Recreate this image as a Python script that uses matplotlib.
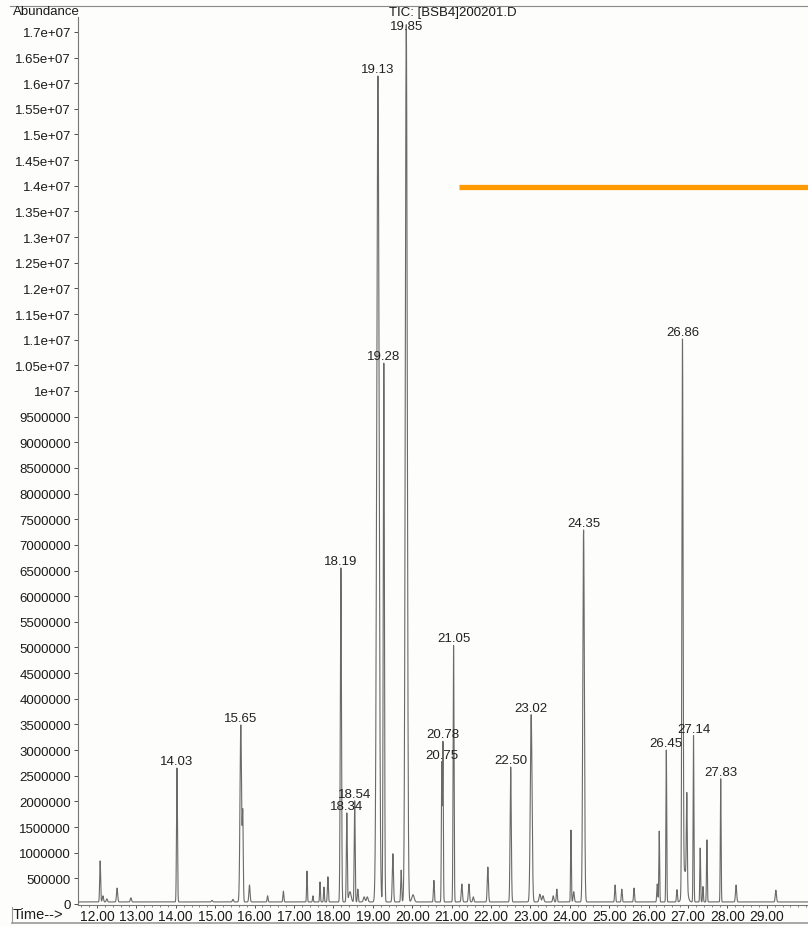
import numpy as np
import matplotlib
matplotlib.use("Agg")
import matplotlib.pyplot as plt
from matplotlib.lines import Line2D
from matplotlib.ticker import FixedLocator, MultipleLocator, FuncFormatter

plt.rcParams["font.family"] = ["Liberation Sans", "DejaVu Sans"]

# peak table: retention time (min), apex abundance, peak sigma (min)
PEAK_RT = [12.08, 12.15, 12.25, 12.51, 12.86, 14.03, 14.92, 15.45, 15.65, 15.70,
           15.87, 16.33, 16.73, 17.33, 17.48, 17.66, 17.76, 17.86, 18.19, 18.34,
           18.42, 18.54, 18.62, 18.78, 18.86, 19.13, 19.28, 19.51, 19.72, 19.85,
           20.02, 20.55, 20.75, 20.78, 21.05, 21.26, 21.44, 21.55, 21.92, 22.50,
           23.02, 23.24, 23.32, 23.58, 23.67, 24.03, 24.10, 24.35, 25.15, 25.32,
           25.63, 26.22, 26.27, 26.45, 26.72, 26.86, 26.92, 26.97, 27.14, 27.31,
           27.38, 27.48, 27.83, 28.22, 29.23]
PEAK_HEIGHT = [0.80e6, 0.12e6, 0.06e6, 0.27e6, 0.08e6, 2.61e6, 0.03e6, 0.05e6, 3.45e6, 1.65e6,
               0.33e6, 0.12e6, 0.21e6, 0.60e6, 0.12e6, 0.39e6, 0.29e6, 0.49e6, 6.51e6, 1.73e6,
               0.20e6, 1.97e6, 0.25e6, 0.10e6, 0.10e6, 16.1e6, 10.5e6, 0.94e6, 0.62e6, 17.1e6,
               0.14e6, 0.42e6, 2.70e6, 3.10e6, 5.00e6, 0.35e6, 0.35e6, 0.10e6, 0.68e6, 2.63e6,
               3.65e6, 0.15e6, 0.12e6, 0.12e6, 0.25e6, 1.40e6, 0.20e6, 7.25e6, 0.33e6, 0.25e6,
               0.27e6, 0.35e6, 1.38e6, 2.96e6, 0.24e6, 10.68e6, 0.60e6, 1.77e6, 3.24e6, 1.05e6,
               0.30e6, 1.21e6, 2.40e6, 0.33e6, 0.23e6]
PEAK_SIGMA = [0.012, 0.015, 0.015, 0.015, 0.015, 0.012, 0.015, 0.015, 0.020, 0.012,
              0.015, 0.012, 0.012, 0.010, 0.010, 0.010, 0.010, 0.012, 0.015, 0.012,
              0.030, 0.012, 0.012, 0.020, 0.020, 0.030, 0.015, 0.015, 0.012, 0.025,
              0.030, 0.012, 0.010, 0.010, 0.012, 0.015, 0.015, 0.015, 0.015, 0.015,
              0.022, 0.020, 0.020, 0.015, 0.012, 0.010, 0.015, 0.020, 0.012, 0.012,
              0.012, 0.012, 0.010, 0.010, 0.012, 0.015, 0.050, 0.012, 0.010, 0.010,
              0.010, 0.010, 0.010, 0.015, 0.015]
BASELINE = 40000

# integrated peaks that carry a retention-time label
LABELED_RT = [14.03, 15.65, 18.19, 18.34, 18.54, 19.13, 19.28, 19.85, 20.75, 20.78,
              21.05, 22.50, 23.02, 24.35, 26.45, 26.86, 27.14, 27.83]

Y_TICKS = np.arange(0, 1.7e7 + 1, 5e5)
X_TICKS = np.arange(12, 30)
MARKER_LEVEL = 1.398e7
MARKER_START = 21.2

t = np.arange(11.5, 30.1, 0.002)
signal = np.full_like(t, BASELINE, dtype=float)
for rt, h, s in zip(PEAK_RT, PEAK_HEIGHT, PEAK_SIGMA):
    signal += h * np.exp(-0.5 * ((t - rt) / s) ** 2)

W, H = 808, 928
fig = plt.figure(figsize=(W / 100, H / 100), dpi=100)
fig.patch.set_facecolor("#fdfdfc")
ax = fig.add_axes([78 / W, 1 - 906 / H, (W - 78) / W, (906 - 18) / H])
ax.set_facecolor("none")

ax.plot(t, signal, color="#6a6a6a", linewidth=0.8)

for rt in LABELED_RT:
    apex = BASELINE + sum(h * np.exp(-0.5 * ((rt - p) / s) ** 2)
                          for p, h, s in zip(PEAK_RT, PEAK_HEIGHT, PEAK_SIGMA))
    dy = -3 if apex > 1.69e7 else 3
    ax.annotate(f"{rt:.2f}", xy=(rt, apex), xytext=(0, dy), textcoords="offset points",
                ha="center", va="baseline", fontsize=9.5, color="#222222")

x_right = 11.518 + (W - 78) / 39.4
ax.hlines(MARKER_LEVEL, MARKER_START, x_right, color="#ff9a00", linewidth=3.8)

ax.set_xlim(11.518, x_right)
ax.set_ylim(-19500, 1.729e7)

ax.yaxis.set_major_locator(FixedLocator(Y_TICKS))
ax.yaxis.set_major_formatter(FuncFormatter(
    lambda v, pos: f"{v:g}" if v >= 1e7 else f"{int(round(v))}"))
ax.xaxis.set_major_locator(FixedLocator(X_TICKS))
ax.xaxis.set_minor_locator(MultipleLocator(0.2))
ax.xaxis.set_major_formatter(FuncFormatter(lambda v, pos: f"{v:.2f}"))

ax.tick_params(axis="y", direction="out", length=3, width=0.6, pad=2,
               labelsize=9.5, colors="#333333", labelcolor="#1a1a1a")
ax.tick_params(axis="x", which="major", direction="out", length=2.5, width=0.6, pad=0.5,
               labelsize=10, colors="#333333", labelcolor="#1a1a1a")
ax.tick_params(axis="x", which="minor", direction="out", length=1.5, width=0.5,
               colors="#555555")

for side in ("top", "right"):
    ax.spines[side].set_visible(False)
for side in ("left", "bottom"):
    ax.spines[side].set_color("#777777")
    ax.spines[side].set_linewidth(0.8)

fig.text(13 / W, 1 - 12 / H, "Abundance", ha="left", va="center", fontsize=9.5,
         color="#1a1a1a")
fig.text(453 / W, 1 - 13 / H, "TIC: [BSB4]200201.D", ha="center", va="center",
         fontsize=9.5, color="#1a1a1a")
fig.text(13 / W, 1 - 915 / H, "Time-->", ha="left", va="center", fontsize=10.5,
         color="#1a1a1a")

# page frame lines around the trace
fig.add_artist(Line2D([10 / W, 1], [1 - 7 / H] * 2, color="#8a8a8a", linewidth=0.8))
fig.add_artist(Line2D([12 / W, 1], [1 - 924 / H] * 2, color="#9a9a9a", linewidth=1.2))
fig.add_artist(Line2D([12 / W] * 2, [1 - 908 / H, 1 - 924 / H], color="#9a9a9a",
                      linewidth=0.8))

fig.savefig("out.png", dpi=100, facecolor=fig.get_facecolor())
